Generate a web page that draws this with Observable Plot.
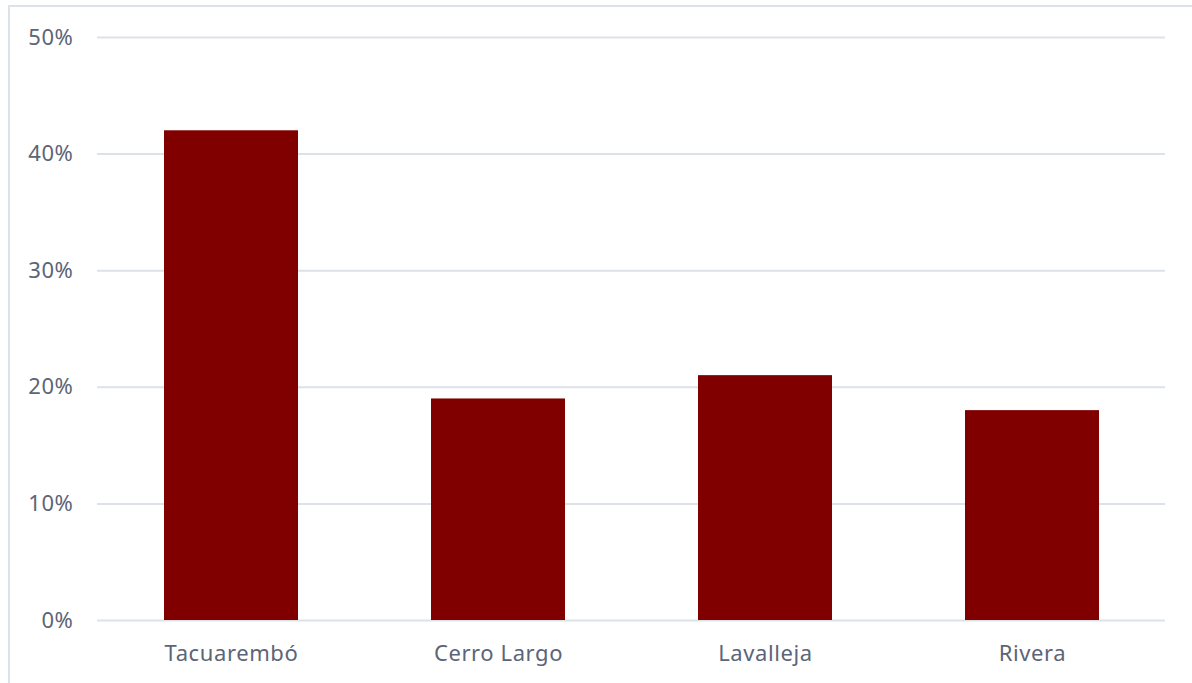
<!DOCTYPE html>
<html>
<head>
<meta charset="utf-8">
<script src="https://cdn.jsdelivr.net/npm/d3@7"></script>
<script src="https://cdn.jsdelivr.net/npm/@observablehq/plot@0.6"></script>
<style>
  html, body { margin: 0; padding: 0; background: #fff; }
  #wrap { position: relative; width: 1192px; height: 683px; overflow: hidden; }
  #edge { position: absolute; left: 8px; top: 5px; right: -4px; bottom: -4px;
          border-top: 2px solid #dde1e8; border-left: 2px solid #dde1e8; pointer-events: none; }
  #chart svg { display: block; }
  #chart text { letter-spacing: 0.6px; }
</style>
</head>
<body>
<div id="wrap">
  <div id="chart"></div>
  <div id="edge"></div>
</div>
<script>
// Departments and their share (%)
const departments = ["Tacuarembó", "Cerro Largo", "Lavalleja", "Rivera"];
const shares = [42, 19, 21, 18];
const yTicks = [0, 10, 20, 30, 40, 50];

const data = departments.map((d, i) => ({department: d, share: shares[i]}));

const textColor = "#5b6577";
const gridColor = "#dde1e8";

const chart = Plot.plot({
  width: 1192,
  height: 683,
  marginLeft: 97,
  marginRight: 27,
  marginTop: 37,
  marginBottom: 63,
  style: {fontFamily: "'Noto Sans', sans-serif", fontSize: "22px", color: textColor, background: "transparent"},
  x: {domain: departments, paddingInner: 0.5, paddingOuter: 0.25, label: null},
  y: {domain: [0, 50], label: null},
  marks: [
    Plot.gridY(yTicks, {stroke: gridColor, strokeOpacity: 1, strokeWidth: 2}),
    Plot.barY(data, {x: "department", y: "share", fill: "#800000"}),
    Plot.axisY(yTicks, {tickSize: 0, tickPadding: 24, tickFormat: d => d + "%", fill: textColor, label: null}),
    Plot.axisX({tickSize: 0, tickPadding: 25, fill: textColor, label: null})
  ]
});
document.getElementById("chart").appendChild(chart);
</script>
</body>
</html>
